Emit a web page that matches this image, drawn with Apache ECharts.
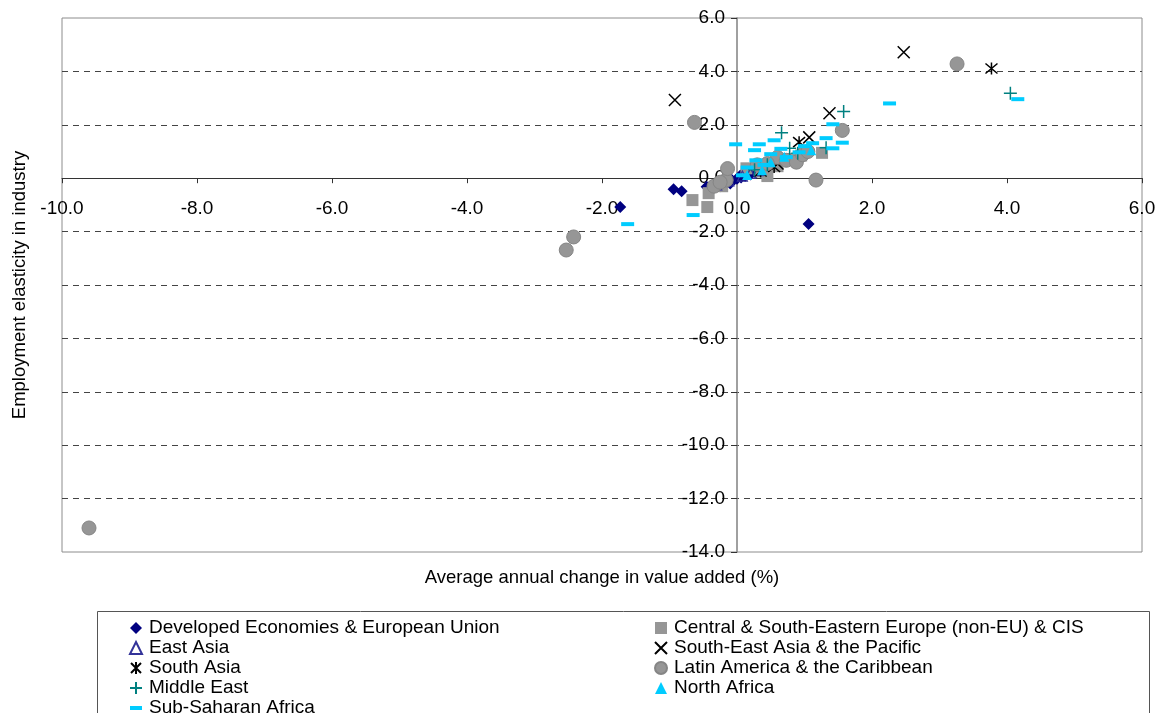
<!DOCTYPE html>
<html>
<head>
<meta charset="utf-8">
<script src="https://cdn.jsdelivr.net/npm/echarts@6/dist/echarts.min.js"></script>
<style>
html,body{margin:0;padding:0;background:#fff;}
#chart{width:1160px;height:713px;}
</style>
</head>
<body>
<div id="chart"></div>
<script>
// ---- data (x: average annual change in value added %, y: employment elasticity) ----
const seriesNames = [
  'Developed Economies & European Union',
  'Central & South-Eastern Europe (non-EU) & CIS',
  'East Asia',
  'South-East Asia & the Pacific',
  'South Asia',
  'Latin America & the Caribbean',
  'Middle East',
  'North Africa',
  'Sub-Saharan Africa'
];
const developed = [[-1.73,-1.08],[-0.94,-0.41],[-0.82,-0.49],[1.06,-1.72],[-0.45,-0.32],[-0.38,-0.28],[-0.3,-0.22],[-0.22,-0.18],[-0.15,-0.12],[-0.08,-0.06],[0.0,-0.02],[0.06,0.03],[0.12,0.08],[0.2,0.14],[0.28,0.2],[-0.25,-0.3],[-0.1,-0.2],[0.05,0.1]];
const centralEurope = [[-0.66,-0.82],[-0.44,-1.08],[-0.42,-0.56],[-0.22,-0.3],[0.14,0.37],[0.45,0.08],[0.6,0.45],[0.82,0.72],[1.26,0.95],[0.95,0.85],[0.35,0.25]];
const eastAsia = [[-0.3,-0.25],[-0.12,-0.1],[0.08,0.08],[0.2,0.18],[0.32,0.28]];
const southEastAsia = [[-0.92,2.93],[2.47,4.72],[1.37,2.43],[1.07,1.53],[0.6,0.55]];
const southAsia = [[3.77,4.11],[0.92,1.35],[0.55,0.42],[0.35,0.25]];
const latinAmerica = [[-9.6,-13.1],[-2.53,-2.69],[-2.42,-2.2],[-0.63,2.09],[3.26,4.28],[1.17,-0.07],[1.56,1.79],[-0.34,-0.3],[-0.16,-0.07],[-0.14,0.36],[-0.25,-0.15],[0.3,0.5],[0.6,0.78],[0.73,0.67],[0.88,0.6],[0.97,0.88],[1.05,1.0],[0.45,0.55]];
const middleEast = [[4.05,3.18],[1.58,2.5],[0.66,1.7],[0.26,0.32],[1.32,1.14],[0.78,1.12],[0.9,0.93],[0.45,0.5]];
const northAfrica = [[0.15,0.12],[0.37,0.3],[0.5,0.6],[0.7,0.8],[1.1,1.05]];
const subSaharan = [[4.16,2.96],[2.26,2.8],[-1.62,-1.72],[-0.65,-1.38],[-0.02,1.27],[1.42,2.02],[1.56,1.33],[0.33,1.27],[0.55,1.42],[0.26,1.05],[0.08,0.11],[0.28,0.67],[1.32,1.5],[1.42,1.12],[0.92,0.97],[0.73,0.79],[1.12,1.31],[0.5,0.9],[0.65,1.1],[0.4,0.5],[1.0,1.2],[0.15,0.4]];
const xTicks = {min:-10, max:6, interval:2};
const yTicks = {min:-14, max:6, interval:2};
const xTitle = 'Average annual change in value added (%)';
const yTitle = 'Employment elasticity in industry';

const FONT = "'Liberation Sans', Arial, sans-serif";
const X_PATH = 'path://M0,0L10,10M10,0L0,10';
const AST_PATH = 'path://M0,0L10,10M10,0L0,10M5,-1L5,11';
const PLUS_PATH = 'path://M5,0L5,10M0,5L10,5';
const DASH_PATH = 'path://M0,0L12,0L12,4L0,4Z';

// grid geometry
const G = {left: 62, right: 18, top: 18, bottom: 161, width: 1160 - 62 - 18, height: 713 - 18 - 161};
// offsets placing the axes where the other axis is zero (crossing axes)
const xAxisOffset = -G.height * (0 - yTicks.min) / (yTicks.max - yTicks.min);
const yAxisOffset = -G.width * (0 - xTicks.min) / (xTicks.max - xTicks.min);

function sc(name, data, symbol, size, style, extra) {
  return Object.assign({
    type: 'scatter', name: name, data: data, symbol: symbol, symbolSize: size,
    itemStyle: Object.assign({opacity: 1}, style), emphasis: {disabled: true}, silent: true
  }, extra || {});
}

const series = [
  sc(seriesNames[0], developed, 'diamond', 12, {color:'#000080'}),
  sc(seriesNames[1], centralEurope, 'rect', 12, {color:'#969696'}),
  sc(seriesNames[2], eastAsia, 'triangle', 10, {color:'rgba(255,255,255,0)', borderColor:'#333399', borderWidth:1.2}),
  sc(seriesNames[3], southEastAsia, X_PATH, 12, {color:'#000', borderColor:'#000', borderWidth:1.5}),
  sc(seriesNames[4], southAsia, AST_PATH, 12, {color:'#000', borderColor:'#000', borderWidth:1.5}),
  sc(seriesNames[5], latinAmerica, 'circle', 14, {color:'#969696', borderColor:'#858585', borderWidth:1}),
  sc(seriesNames[6], middleEast, PLUS_PATH, 13, {color:'#008080', borderColor:'#008080', borderWidth:1.5}),
  sc(seriesNames[7], northAfrica, 'triangle', 10, {color:'#00CCFF'}),
  sc(seriesNames[8], subSaharan, 'rect', [13,4], {color:'#00CCFF'}, {symbolKeepAspect:true})
];

const legendCommon = {
  orient: 'vertical', itemWidth: 12, itemHeight: 12, itemGap: 0, height: 200,
  textStyle: {fontFamily: FONT, fontSize: 19, color: '#000', lineHeight: 20, padding:[0,0,0,2]},
  selectedMode: false, inactiveColor: '#000'
};

const chart = echarts.init(document.getElementById('chart'), null, {renderer:'canvas'});
chart.setOption({
  animation: false,
  backgroundColor: '#fff',
  grid: {left: G.left, right: G.right, top: G.top, bottom: G.bottom, containLabel: false, outerBoundsMode: 'none',
         show: true, borderColor: '#8c8c8c', borderWidth: 1, backgroundColor: 'transparent'},
  xAxis: {
    type: 'value', min: xTicks.min, max: xTicks.max, interval: xTicks.interval,
    position: 'bottom', offset: xAxisOffset,
    axisLine: {show: true, onZero: false, lineStyle: {color: '#333', width: 1}},
    axisTick: {show: true, length: 5, lineStyle: {color: '#333'}},
    axisLabel: {formatter: v => v.toFixed(1), fontFamily: FONT, fontSize: 19, color: '#000', margin: 21},
    splitLine: {show: false},
    name: xTitle, nameLocation: 'middle', nameGap: 390,
    nameTextStyle: {fontFamily: FONT, fontSize: 18.5, color: '#000'}
  },
  yAxis: {
    type: 'value', min: yTicks.min, max: yTicks.max, interval: yTicks.interval,
    position: 'left', offset: yAxisOffset,
    axisLine: {show: true, onZero: false, lineStyle: {color: '#808080', width: 1.5}},
    axisTick: {show: true, length: 6, lineStyle: {color: '#333'}},
    axisLabel: {formatter: v => v.toFixed(1), fontFamily: FONT, fontSize: 19, color: '#000', margin: 12},
    splitLine: {show: true, showMinLine: false, showMaxLine: false, lineStyle: {color: '#444', type: [6,5], width: 1}},
    name: yTitle, nameLocation: 'middle', nameGap: 708, nameRotate: 90,
    nameTextStyle: {fontFamily: FONT, fontSize: 18.5, color: '#000'}
  },
  legend: [
    Object.assign({}, legendCommon, {left: 124, top: 613,
      data: [
        {name: seriesNames[0]}, {name: seriesNames[2]}, {name: seriesNames[4]},
        {name: seriesNames[6]}, {name: seriesNames[8], icon: DASH_PATH}
      ]}),
    Object.assign({}, legendCommon, {left: 649, top: 613,
      data: [
        {name: seriesNames[1]}, {name: seriesNames[3]}, {name: seriesNames[5]}, {name: seriesNames[7]}
      ]})
  ],
  graphic: [{
    type: 'rect', left: 97, top: 611, z: -1, silent: true,
    shape: {width: 1052, height: 120},
    style: {fill: '#fff', stroke: '#555', lineWidth: 1}
  }],
  series: series
});
</script>
</body>
</html>
